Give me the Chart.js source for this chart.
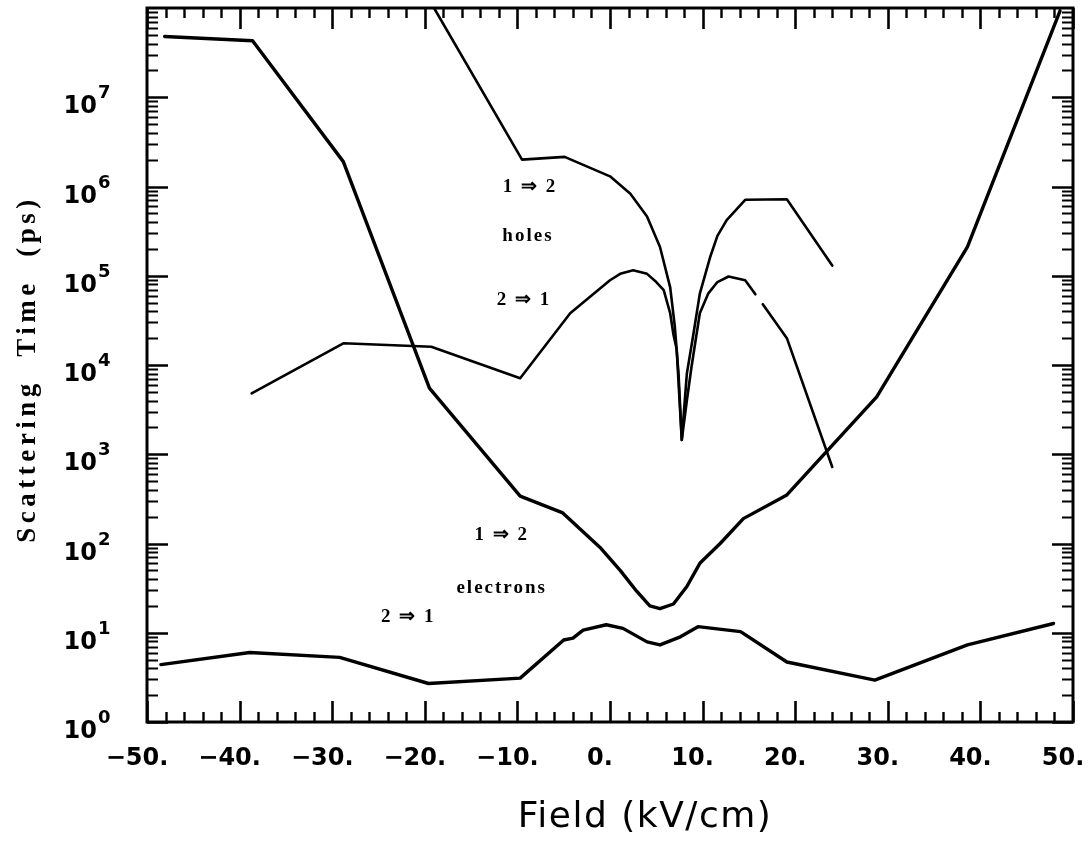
<!DOCTYPE html>
<html>
<head>
<meta charset="utf-8">
<script src="https://cdn.jsdelivr.net/npm/chart.js@4.4.1/dist/chart.umd.min.js"></script>
<style>
html,body{margin:0;padding:0;background:#fff;}
#wrap{position:relative;width:1090px;height:847px;}
</style>
</head>
<body>
<div id="wrap"><canvas id="c" width="1090" height="847"></canvas></div>
<script>
// ---- axis ticks ----
const xTickValues = [-50, -40, -30, -20, -10, 0, 10, 20, 30, 40, 50];
const xTickLabels = ['\u221250.', '\u221240.', '\u221230.', '\u221220.', '\u221210.', '0.', '10.', '20.', '30.', '40.', '50.'];
const yTickExponents = [0, 1, 2, 3, 4, 5, 6, 7];

// ---- electrons 1 => 2 ----
const elec12Field = [-48.1, -38.6, -28.8, -19.5, -9.7, -5.1, -1.1, 1.1, 2.9, 4.3, 5.4, 6.85, 8.3, 9.7, 11.9, 14.4, 19.1, 28.8, 38.6, 48.6];
const elec12Time  = [4.8e7, 4.3e7, 1.9e6, 5.5e3, 340, 220, 91, 50, 29, 20, 18.6, 21, 33, 60, 100, 190, 350, 4.4e3, 2.1e5, 9.3e7];

// ---- electrons 2 => 1 ----
const elec21Field = [-48.5, -38.9, -29.2, -19.6, -9.7, -5.0, -4.0, -2.9, -0.4, 1.4, 4.0, 5.4, 7.6, 9.5, 14.1, 19.1, 28.6, 38.6, 47.9];
const elec21Time  = [4.4, 6.0, 5.3, 2.7, 3.1, 8.3, 8.7, 10.7, 12.3, 11.2, 7.9, 7.3, 9.0, 11.7, 10.3, 4.7, 2.95, 7.3, 12.7];

// ---- holes 1 => 2 ----
const hole12Field = [-19.0, -9.5, -4.9, 0.0, 2.2, 4.0, 5.4, 6.5, 7.0, 7.4, 7.75, 8.3, 9.0, 9.7, 10.8, 11.6, 12.6, 14.6, 19.1, 24.0];
const hole12Time  = [1.0e8, 2.0e6, 2.15e6, 1.3e6, 8.3e5, 4.6e5, 2.1e5, 7.4e4, 2.7e4, 8.0e3, 1.45e3, 8.0e3, 2.2e4, 6.3e4, 1.6e5, 2.8e5, 4.2e5, 7.1e5, 7.2e5, 1.3e5];

// ---- holes 2 => 1 (with a small break near 16 kV/cm) ----
const hole21Field = [-38.7, -28.8, -19.3, -9.7, -4.3, 0.0, 1.1, 2.5, 4.0, 5.0, 5.8, 6.5, 6.85, 7.2, 7.75, 8.3, 8.8, 9.7, 10.6, 11.6, 12.8, 14.6, 15.7, 16.05, 16.5, 19.1, 24.0];
const hole21Time  = [4.8e3, 1.75e4, 1.6e4, 7.1e3, 3.8e4, 8.9e4, 1.05e5, 1.15e5, 1.05e5, 8.5e4, 6.9e4, 3.8e4, 2.2e4, 1.5e4, 1.45e3, 4.0e3, 9.5e3, 3.8e4, 6.3e4, 8.5e4, 9.8e4, 8.9e4, 6.2e4, null, 4.8e4, 2.0e4, 720];

// ---- in-plot labels (data coordinates) ----
const noteTexts = ['1 \u21D2 2', 'holes', '2 \u21D2 1', '1 \u21D2 2', 'electrons', '2 \u21D2 1'];
const noteField = [-8.65, -8.86, -9.3, -11.7, -11.7, -21.8];
const noteTime  = [9.8e5, 2.8e5, 5.4e4, 123, 31.6, 15.1];

const xTitle = 'Field (kV/cm)';
const yTitle = 'Scattering  Time  (ps)';

function pts(xs, ys) { return xs.map((x, i) => ({ x: x, y: ys[i] })); }

const decorPlugin = {
  id: 'decor',
  afterDatasetsDraw(chart) {
    const ctx = chart.ctx;
    const a = chart.chartArea;
    const xs = chart.scales.x, ys = chart.scales.y;
    ctx.save();
    ctx.strokeStyle = '#000';
    ctx.fillStyle = '#000';
    // frame
    ctx.lineWidth = 3;
    ctx.strokeRect(a.left, a.top, a.right - a.left, a.bottom - a.top);
    // x ticks (inward, bottom and top)
    for (let v = -50; v <= 50; v += 2) {
      const px = Math.round(xs.getPixelForValue(v)) + 0.5;
      const major = (v % 10 === 0);
      const len = major ? 21 : 10;
      ctx.lineWidth = major ? 2.6 : 2.4;
      ctx.beginPath();
      ctx.moveTo(px, a.bottom); ctx.lineTo(px, a.bottom - len);
      ctx.moveTo(px, a.top); ctx.lineTo(px, a.top + len);
      ctx.stroke();
    }
    // y ticks (log, inward, left and right)
    for (let e = 0; e <= 7; e++) {
      for (let m = 1; m <= 9; m++) {
        const val = m * Math.pow(10, e);
        const py = Math.round(ys.getPixelForValue(val)) + 0.5;
        const major = (m === 1);
        const len = major ? 21 : 11;
        ctx.lineWidth = major ? 2.6 : 2.2;
        ctx.beginPath();
        ctx.moveTo(a.left, py); ctx.lineTo(a.left + len, py);
        ctx.moveTo(a.right, py); ctx.lineTo(a.right - len, py);
        ctx.stroke();
      }
    }
    // y tick labels 10^n
    ctx.textBaseline = 'alphabetic';
    yTickExponents.forEach(e => {
      const py = ys.getPixelForValue(Math.pow(10, e));
      ctx.font = 'bold 24px "DejaVu Sans"';
      ctx.textAlign = 'right';
      ctx.fillText('10', a.left - 50, py + 16);
      ctx.font = 'bold 18px "DejaVu Sans"';
      ctx.textAlign = 'left';
      ctx.fillText(String(e), a.left - 49, py + 1);
    });
    // in-plot notes
    ctx.font = 'bold 19px "Liberation Serif"';
    ctx.letterSpacing = '2px';
    ctx.textAlign = 'center';
    ctx.textBaseline = 'middle';
    noteTexts.forEach((t, i) => {
      ctx.fillText(t, xs.getPixelForValue(noteField[i]), ys.getPixelForValue(noteTime[i]));
    });
    // axis titles
    ctx.font = 'bold 27px "Liberation Serif"';
    ctx.letterSpacing = '4.5px';
    ctx.save();
    ctx.translate(28, (a.top + a.bottom) / 2 + 4);
    ctx.rotate(-Math.PI / 2);
    ctx.fillText(yTitle, 0, 0);
    ctx.restore();
    ctx.font = '36px "DejaVu Sans"';
    ctx.letterSpacing = '1.5px';
    ctx.fillText(xTitle, (a.left + a.right) / 2 + 35, 818);
    ctx.restore();
  }
};

const lineStyle = (w) => ({ borderColor: '#000', backgroundColor: '#000', borderWidth: w, pointRadius: 0, tension: 0, fill: false, borderJoinStyle: 'round', borderCapStyle: 'round', spanGaps: false });

new Chart(document.getElementById('c'), {
  type: 'line',
  data: {
    datasets: [
      Object.assign({ label: 'electrons 1 \u21D2 2', data: pts(elec12Field, elec12Time) }, lineStyle(3.4)),
      Object.assign({ label: 'electrons 2 \u21D2 1', data: pts(elec21Field, elec21Time) }, lineStyle(3.4)),
      Object.assign({ label: 'holes 1 \u21D2 2', data: pts(hole12Field, hole12Time) }, lineStyle(2.6)),
      Object.assign({ label: 'holes 2 \u21D2 1', data: pts(hole21Field, hole21Time) }, lineStyle(2.6))
    ]
  },
  options: {
    responsive: false,
    animation: false,
    devicePixelRatio: 1,
    layout: { padding: { top: 8, right: 17, left: 0, bottom: 0 } },
    plugins: { legend: { display: false }, tooltip: { enabled: false } },
    scales: {
      x: {
        type: 'linear', min: -50, max: 50,
        afterBuildTicks: s => { s.ticks = xTickValues.map(v => ({ value: v })); },
        ticks: {
          callback: v => xTickLabels[xTickValues.indexOf(v)],
          font: { family: 'DejaVu Sans', size: 24, weight: 'bold' },
          color: '#000', padding: 22, labelOffset: -10, maxRotation: 0, autoSkip: false
        },
        grid: { display: false, drawTicks: false },
        border: { display: false },
        afterFit: s => { s.height = 125; s.paddingLeft = 0; s.paddingRight = 0; }
      },
      y: {
        type: 'logarithmic', min: 1, max: 1e8,
        ticks: { display: false },
        grid: { display: false, drawTicks: false },
        border: { display: false },
        afterFit: s => { s.width = 147; }
      }
    }
  },
  plugins: [decorPlugin]
});
</script>
</body>
</html>
